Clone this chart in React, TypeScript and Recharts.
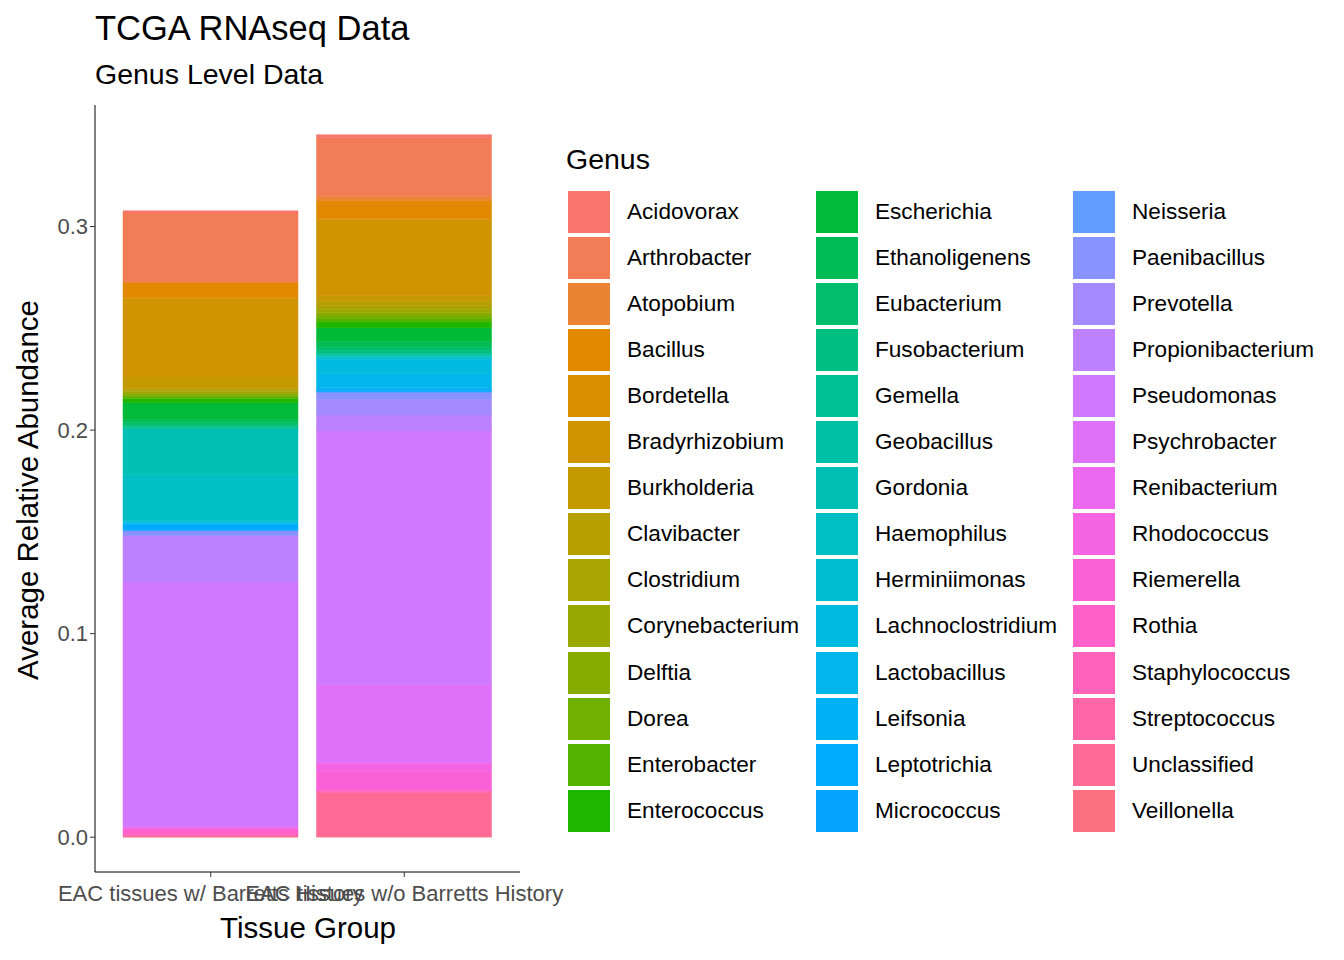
import React from "react";
import { BarChart, Bar, XAxis, YAxis } from "recharts";

const genera = ["Acidovorax","Arthrobacter","Atopobium","Bacillus","Bordetella","Bradyrhizobium","Burkholderia","Clavibacter","Clostridium","Corynebacterium","Delftia","Dorea","Enterobacter","Enterococcus","Escherichia","Ethanoligenens","Eubacterium","Fusobacterium","Gemella","Geobacillus","Gordonia","Haemophilus","Herminiimonas","Lachnoclostridium","Lactobacillus","Leifsonia","Leptotrichia","Micrococcus","Neisseria","Paenibacillus","Prevotella","Propionibacterium","Pseudomonas","Psychrobacter","Renibacterium","Rhodococcus","Riemerella","Rothia","Staphylococcus","Streptococcus","Unclassified","Veillonella"];
const groups = ["EAC tissues w/ Barretts History", "EAC tissues w/o Barretts History"];
const withBarretts = [0.001,0.0338,0.0003,0.0075,0.0005,0.0385,0.0057,0.0008,0.0008,0.0009,0.0008,0.0009,0.0008,0.002,0.0083,0.0015,0.0015,0.0005,0.0005,0.0005,0.0225,0.0225,0.0005,0.0005,0.0005,0.0005,0.0025,0.0003,0.0003,0.0022,0.0003,0.0226,0.12,0.0005,0.0003,0.0003,0.0012,0.0018,0.0004,0.0003,0.0003,0.0003];
const withoutBarretts = [0.0015,0.0288,0.002,0.0087,0.0005,0.0375,0.003,0.002,0.002,0.0015,0.0015,0.0015,0.0015,0.0028,0.0069,0.0027,0.0015,0.0015,0.0005,0.0005,0.0005,0.0005,0.001,0.007,0.0069,0.0005,0.001,0.0005,0.0003,0.0034,0.0077,0.0078,0.1245,0.0384,0.0005,0.004,0.0087,0.0005,0.0005,0.0005,0.0215,0.0005];
const yTicks = [0, 0.1, 0.2, 0.3];

function hcl(h: number, c: number, l: number): string {
  const hr = (h * Math.PI) / 180;
  const L = l, U = c * Math.cos(hr), V = c * Math.sin(hr);
  const Xn = 95.047, Yn = 100, Zn = 108.883;
  const un = (4 * Xn) / (Xn + 15 * Yn + 3 * Zn), vn = (9 * Yn) / (Xn + 15 * Yn + 3 * Zn);
  const Y = L > 8 ? Yn * Math.pow((L + 16) / 116, 3) : (Yn * L) / 903.3;
  const u = U / (13 * L) + un, v = V / (13 * L) + vn;
  const X = (9 * Y * u) / (4 * v);
  const Z = -X / 3 - 5 * Y + (3 * Y) / v;
  const x = X / 100, y = Y / 100, z = Z / 100;
  const lin = [3.240479 * x - 1.53715 * y - 0.498535 * z, -0.969256 * x + 1.875992 * y + 0.041556 * z, 0.055648 * x - 0.204043 * y + 1.057311 * z];
  const g = lin.map((t) => {
    const s = t <= 0.0031308 ? 12.92 * t : 1.055 * Math.pow(t, 1 / 2.4) - 0.055;
    return Math.max(0, Math.min(255, Math.round(s * 255)));
  });
  return "#" + g.map((n) => n.toString(16).padStart(2, "0")).join("");
}
const colors = genera.map((_, i) => hcl(15 + (360 / 42) * i, 100, 65));

const data = groups.map((g, gi) => {
  const row: any = { group: g };
  genera.forEach((n, i) => (row[n] = gi === 0 ? withBarretts[i] : withoutBarretts[i]));
  return row;
});

const font = "'Liberation Sans', Arial, sans-serif";

export default function App() {
  const order = [...genera].reverse();
  return (
    <div style={{ position: "absolute", left: 0, top: 0, width: 1344, height: 960, fontFamily: font, background: "#fff" }}>
      <BarChart width={1344} height={960} data={data} margin={{ top: 105, right: 824, left: 45, bottom: 58 }} barSize={175}>
        <XAxis dataKey="group" padding={{ left: 19, right: 19 }} stroke="#000" tickLine={{ stroke: "#333" }} tickSize={5} tickMargin={8}
          tick={{ fill: "#4d4d4d", fontSize: 22, fontFamily: font }} height={30} interval={0} />
        <YAxis domain={[-0.0171, 0.3597]} ticks={yTicks} allowDataOverflow width={50} stroke="#000" tickLine={{ stroke: "#333" }} tickSize={5}
          tick={{ fill: "#4d4d4d", fontSize: 22, fontFamily: font }} tickFormatter={(v: number) => v.toFixed(1)} />
        {order.map((n) => (
          <Bar key={n} dataKey={n} stackId="a" fill={colors[genera.indexOf(n)]} stroke={colors[genera.indexOf(n)]} strokeWidth={0.5} isAnimationActive={false} />
        ))}
      </BarChart>
      <div style={{ position: "absolute", left: 95, top: 9, fontSize: 34.5 }}>TCGA RNAseq Data</div>
      <div style={{ position: "absolute", left: 95, top: 58, fontSize: 28.5 }}>Genus Level Data</div>
      <div style={{ position: "absolute", left: 308, top: 911, fontSize: 29.5, transform: "translateX(-50%)", whiteSpace: "nowrap" }}>Tissue Group</div>
      <div style={{ position: "absolute", left: 28, top: 490, fontSize: 29.5, transform: "translate(-50%,-50%) rotate(-90deg)", whiteSpace: "nowrap" }}>Average Relative Abundance</div>
      <div style={{ position: "absolute", left: 566, top: 143, fontSize: 28.5 }}>Genus</div>
      {genera.map((n, i) => {
        const col = Math.floor(i / 14), row = i % 14;
        const xs = [568, 816, 1073];
        return (
          <div key={n} style={{ position: "absolute", left: xs[col], top: 191 + row * 46.05, height: 42, display: "flex", alignItems: "center" }}>
            <div style={{ width: 42, height: 42, background: colors[i] }} />
            <span style={{ marginLeft: 17, fontSize: 22.6, whiteSpace: "nowrap" }}>{n}</span>
          </div>
        );
      })}
    </div>
  );
}
